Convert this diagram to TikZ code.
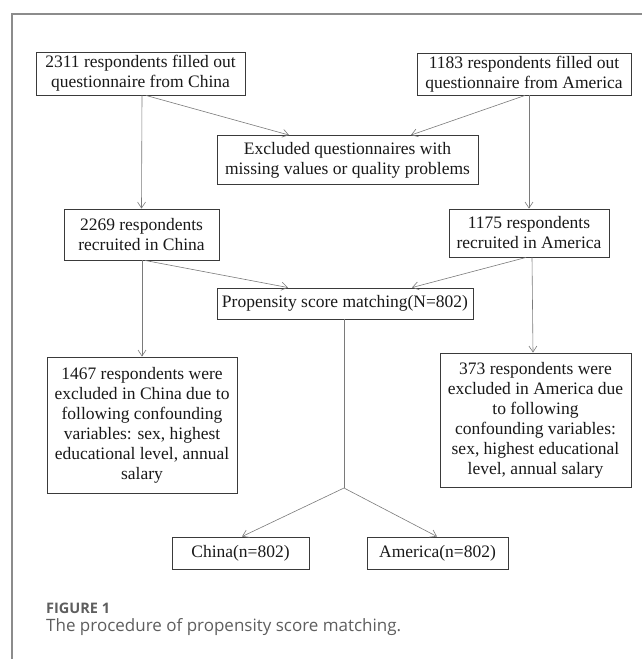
\documentclass[tikz,border=0pt]{standalone}
\usepackage{fontspec}
\setmainfont{Liberation Serif}
\newfontfamily\capfont{Open Sans}
\usetikzlibrary{arrows.meta,calc}
\definecolor{framegray}{HTML}{8C8C8C}
\definecolor{linegray}{HTML}{7A7A7A}
\definecolor{boxgray}{HTML}{3A3A3A}
\definecolor{capgray}{HTML}{5E5E5E}
\begin{document}
\begin{tikzpicture}[x=1pt,y=-1pt,
  box/.style={draw=boxgray,line width=0.9pt,rectangle,inner sep=0pt,align=center,
    font=\fontsize{17.5}{20}\selectfont,text=black!90},
  conn/.style={draw=linegray,line width=0.6pt},
  arr/.style={conn,-{Straight Barb[length=6pt,width=8pt,line width=0.6pt]}},
  frameline/.style={draw=framegray,line width=1.3pt}]
\useasboundingbox (0,0) rectangle (642,659);
% frame
\coordinate (ftop) at (12,14);
\coordinate (fright) at (642,14);
\coordinate (fbot) at (12,659);
\draw[frameline] (fbot) -- (ftop) -- (fright);
% boxes
\node[box,minimum width=209pt,minimum height=43pt] (b1) at (140.5,73.5) {2311 respondents filled out\\questionnaire from China};
\node[box,minimum width=214pt,minimum height=42pt] (b2) at (524,74) {1183 respondents filled out\\questionnaire from America};
\node[box,minimum width=261pt,minimum height=49pt] (ex) at (347.5,160) {Excluded questionnaires with\\missing values or quality problems};
\node[box,minimum width=155pt,minimum height=51pt] (c1) at (141.5,234.5) {2269 respondents\\recruited in China};
\node[box,minimum width=160pt,minimum height=48pt] (a1) at (529,233) {1175 respondents\\recruited in America};
\node[box,minimum width=256pt,minimum height=31pt] (psm) at (345,303.5) {Propensity score matching(N=802)};
\node[box,minimum width=190pt,minimum height=136pt] (c2) at (142,425) {1467 respondents were\\excluded in China due to\\following confounding\\variables: sex, highest\\educational level, annual\\salary};
\node[box,minimum width=191pt,minimum height=134pt] (a2) at (535.5,420) {373 respondents were\\excluded in America due\\to following\\confounding variables:\\sex, highest educational\\level, annual salary};
\node[box,minimum width=137pt,minimum height=32pt] (cn) at (240.5,553) {China(n=802)};
\node[box,minimum width=141pt,minimum height=32pt] (us) at (437.5,553) {America(n=802)};
% connectors
\draw[arr] ([xshift=1.5pt]b1.south) -- (c1.north);
\draw[arr] ([xshift=5.5pt]b1.south) -- ([xshift=-58.5pt]ex.north);
\draw[arr] ([xshift=1pt]b2.south) -- ([xshift=63.5pt]ex.north);
\draw[arr] ([xshift=5pt]b2.south) -- (a1.north);
\draw[arr] ([xshift=3.5pt]c1.south) -- ([xshift=-57pt]psm.north);
\draw[arr] ([xshift=-3pt]a1.south) -- ([xshift=67pt]psm.north);
\draw[arr] ([xshift=0.5pt]c1.south) -- (c2.north);
\draw[arr] ([xshift=3pt]a1.south) -- ([xshift=-2.5pt]a2.north);
\coordinate (split) at (344,488);
\draw[conn] ([xshift=-1pt]psm.south) -- (split);
\draw[arr] (split) -- ([xshift=1.5pt]cn.north);
\draw[arr] (split) -- ([xshift=-0.5pt]us.north);
% caption
\node[anchor=base west,inner sep=0pt,font=\capfont\bfseries\fontsize{14.5}{16}\selectfont,text=capgray] (figlab) at (46,613) {FIGURE 1};
\node[anchor=base west,inner sep=0pt,font=\capfont\fontsize{17}{19}\selectfont,text=capgray] (figcap) at (46,631) {The procedure of propensity score matching.};
\end{tikzpicture}
\end{document}
